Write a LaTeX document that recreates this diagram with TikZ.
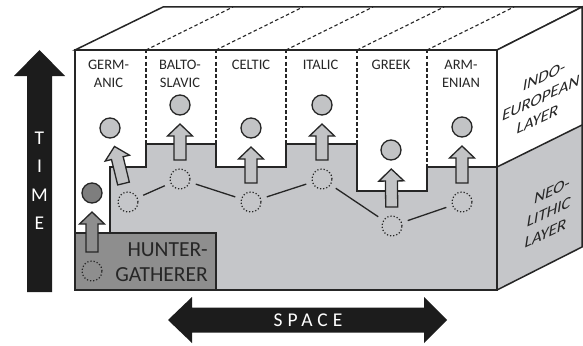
\documentclass[tikz,border=0pt]{standalone}
\usepackage{fontspec}
\setmainfont{Carlito}
\newfontfamily\spacedfont[LetterSpace=26]{Carlito}
\usetikzlibrary{calc}

\definecolor{ink}{HTML}{262626}
\definecolor{neo}{HTML}{C5C6C9}
\definecolor{bubble}{HTML}{C2C3C5}
\definecolor{hunter}{HTML}{8E8E8E}
\definecolor{hunterdot}{HTML}{7E7E7E}
\definecolor{axis}{HTML}{1C1C1C}

\tikzset{
  edge/.style={draw=ink, line width=1.5pt, line join=miter},
  divider/.style={draw=ink, line width=1.1pt, dash pattern=on 3.5pt off 2.5pt},
  stage/.style={circle, draw=ink, line width=1.3pt, fill=bubble, minimum size=20pt, inner sep=0pt},
  origin/.style={circle, draw=ink, line width=1.2pt, dotted, minimum size=20pt, inner sep=0pt},
  link/.style={draw=ink, line width=1.3pt, shorten <=6pt, shorten >=6pt},
  blockarrowstyle/.style={draw=ink, line width=1.3pt, line join=miter},
  collabel/.style={text=ink, font=\fontsize{14.5}{18.5}\selectfont, align=center, anchor=north, inner sep=0pt},
  facelabel/.style={text=ink, font=\fontsize{17}{21.5}\selectfont, align=center, inner sep=0pt},
}

% hollow block arrow between two nodes, 19pt clear of each centre
\newcommand\blockarrow[3]{%
  \coordinate (ba-s) at ($(#1)!19pt!(#2)$);
  \coordinate (ba-t) at ($(#2)!19pt!(#1)$);
  \coordinate (ba-h) at ($(ba-t)!12pt!(#1)$);
  \draw[blockarrowstyle, fill=#3]
    ($(ba-s)!6pt!90:(ba-t)$) -- ($(ba-h)!6pt!90:(ba-t)$) --
    ($(ba-h)!12.5pt!90:(ba-t)$) -- (ba-t) --
    ($(ba-h)!12.5pt!-90:(ba-t)$) -- ($(ba-h)!6pt!-90:(ba-t)$) --
    ($(ba-s)!6pt!-90:(ba-t)$) -- cycle;
}

\begin{document}
\begin{tikzpicture}[x=1pt, y=-1pt]
\useasboundingbox (0,0) rectangle (583,345);

% front face
\fill[white] (75,50) rectangle (497,290);
% neolithic layer on the front face
\fill[neo] (110,233) -- (110,167) -- (146,167) -- (146,144) -- (216,144) -- (216,167)
  -- (286,167) -- (286,144) -- (357,144) -- (357,191) -- (427,191) -- (427,167)
  -- (497,167) -- (497,290) -- (75,290) -- (75,233) -- cycle;
\draw[edge] (110,233) -- (110,167) -- (146,167) -- (146,144) -- (216,144) -- (216,167)
  -- (286,167) -- (286,144) -- (357,144) -- (357,191) -- (427,191) -- (427,167)
  -- (497,167);
% hunter-gatherer block
\draw[edge, fill=hunter] (75,233) rectangle (216,290);

% branch dividers
\draw[divider] (146,50) -- (146,144);
\draw[divider] (216,50) -- (216,144);
\draw[divider] (286,50) -- (286,144);
\draw[divider] (357,50) -- (357,144);
\draw[divider] (427,50) -- (427,167);

% top face
\draw[edge, fill=white] (75,50) -- (163,7) -- (582,7) -- (497,50) -- cycle;
\foreach \x in {146,216,286,357,427}
  \draw[divider] (\x,50) -- ++(87,-43);

% right face
\fill[white] (497,50) -- (582,7) -- (582,125) -- (497,167) -- cycle;
\fill[neo] (497,167) -- (582,125) -- (582,247) -- (497,290) -- cycle;
\draw[edge] (497,167) -- (582,125);
\draw[edge] (497,50) -- (582,7) -- (582,247) -- (497,290);
\draw[edge] (75,50) rectangle (497,290);

% time and space axes
\fill[axis] (27,292) -- (27,76) -- (14,76) -- (39.5,50) -- (65,76) -- (52,76) -- (52,292) -- cycle;
\fill[axis] (168,320) -- (192,297) -- (192,307.5) -- (424,307.5) -- (424,297) -- (447,320)
  -- (424,343) -- (424,332.5) -- (192,332.5) -- (192,343) -- cycle;
\node[text=white, font=\fontsize{19.5}{28.5}\selectfont, align=center, anchor=north, inner sep=0pt]
  (timelabel) at (39.5,131.5) {T\\I\\M\\E};
\node[text=white, font=\spacedfont\fontsize{19.5}{20}\selectfont, inner sep=0pt]
  (spacelabel) at (308,320) {SPACE};

% branch labels
\node[collabel] (lgerm) at (108.5,59.5) {GERM-\\ANIC};
\node[collabel] (lbalt) at (180,59.5) {BALTO-\\SLAVIC};
\node[collabel] (lcelt) at (251,59.5) {CELTIC};
\node[collabel] (lital) at (320.5,59.5) {ITALIC};
\node[collabel] (lgreek) at (391,59.5) {GREEK};
\node[collabel] (larm) at (461,59.5) {ARM-\\ENIAN};

% layer labels
\node[text=ink, font=\fontsize{21.5}{25}\selectfont, align=right, anchor=east, inner sep=0pt]
  (lhunter) at (208,262) {HUNTER-\\GATHERER};
\node[facelabel, cm={1,0.47,0.15,1,(0,0)}] (lie) at (541,98) {INDO-\\EUROPEAN\\LAYER};
\node[facelabel, cm={1,0.47,0.15,1,(0,0)}] (lneo) at (549,212) {NEO-\\LITHIC\\LAYER};

% origins and later stages
\node[origin] (h0) at (92,271) {};
\node[stage, fill=hunterdot] (h1) at (92,193) {};
\node[origin] (g0) at (128,202) {};
\node[origin] (b0) at (180,179) {};
\node[origin] (c0) at (251,202) {};
\node[origin] (i0) at (322,179) {};
\node[origin] (r0) at (392,226) {};
\node[origin] (a0) at (462,202) {};
\node[stage] (g1) at (110,128) {};
\node[stage] (b1) at (180,105) {};
\node[stage] (c1) at (251,128) {};
\node[stage] (i1) at (322,105) {};
\node[stage] (r1) at (391,150) {};
\node[stage] (a1) at (462,127) {};

\draw[link] (g0) -- (b0);
\draw[link] (b0) -- (c0);
\draw[link] (c0) -- (i0);
\draw[link] (i0) -- (r0);
\draw[link] (r0) -- (a0);

\blockarrow{h0}{h1}{hunter}
\blockarrow{g0}{g1}{bubble}
\blockarrow{b0}{b1}{bubble}
\blockarrow{c0}{c1}{bubble}
\blockarrow{i0}{i1}{bubble}
\blockarrow{r0}{r1}{bubble}
\blockarrow{a0}{a1}{bubble}
\end{tikzpicture}
\end{document}
